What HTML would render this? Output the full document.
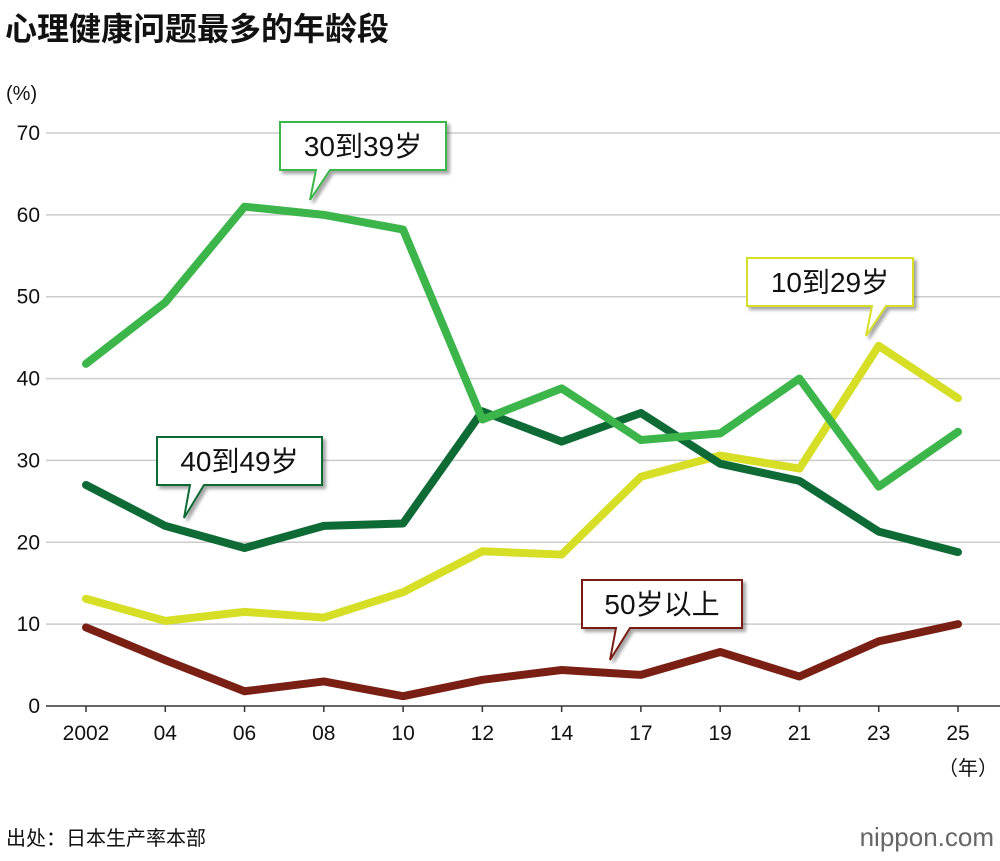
<!DOCTYPE html>
<html><head><meta charset="utf-8"><style>
body{margin:0;background:#fff;font-family:"Liberation Sans","Noto Sans CJK SC",sans-serif;}
svg text{font-family:"Liberation Sans","Noto Sans CJK SC",sans-serif;}
</style></head><body>
<svg id="c" width="1000" height="856" xmlns="http://www.w3.org/2000/svg">
<defs><filter id="sh" x="-10%" y="-10%" width="130%" height="140%"><feDropShadow dx="3" dy="3" stdDeviation="1.5" flood-color="#000" flood-opacity="0.35"/></filter></defs>
<text x="5" y="40" font-size="32" font-weight="bold" fill="#111">心理健康问题最多的年龄段</text>
<text x="6" y="100" font-size="20" fill="#111">(%)</text>
<g id="grid"></g><g id="series"></g><g id="labels"></g>
<text x="968" y="775" font-size="20" fill="#111" text-anchor="middle">（年）</text>
<text x="6" y="845" font-size="20" fill="#111">出处：日本生产率本部</text>
<text x="994" y="846" font-size="26" fill="#666" text-anchor="end">nippon.com</text>
</svg>
<script>
const categories=["2002","04","06","08","10","12","14","17","19","21","23","25"];
const yTicks=[0,10,20,30,40,50,60,70];
const s30=[41.8,49.3,61,60,58.2,35,38.8,32.5,33.3,40,26.8,33.5];
const s40=[27,22,19.3,22,22.3,36,32.3,35.8,29.6,27.5,21.3,18.8];
const s10=[13.1,10.4,11.5,10.8,13.9,18.9,18.5,28,30.6,29,44,37.6];
const s50=[9.6,5.6,1.8,3,1.2,3.2,4.4,3.8,6.6,3.6,7.9,10];
const NS="http://www.w3.org/2000/svg";
const x=i=>86+i*(958-86)/(categories.length-1);
const y=v=>706-v*(706-133)/70;
function mk(t,a,p){const e=document.createElementNS(NS,t);for(const k in a)e.setAttribute(k,a[k]);p.appendChild(e);return e;}
const g=document.getElementById('grid');
yTicks.forEach(v=>{
 const l=mk('line',{x1:46,x2:1000,y1:y(v),y2:y(v),stroke:v===0?'#333':'#ccc','stroke-width':1.5},g);
 
 
 const t=mk('text',{x:40,y:y(v)+7,'font-size':21,'text-anchor':'end',fill:'#111'},g);t.textContent=v;
 
 
});
categories.forEach((c,i)=>{
 const l=mk('line',{x1:x(i),x2:x(i),y1:706,y2:712,stroke:'#333','stroke-width':1.5},g);
 
 
 const t=mk('text',{x:x(i),y:740,'font-size':21,'text-anchor':'middle',fill:'#111'},g);t.textContent=c;
 
 
});
const sg=document.getElementById('series');
[[s50,'#7a1f14','line-50-plus'],[s10,'#d6df26','line-10-29'],[s40,'#0f6b35','line-40-49'],[s30,'#3cb64a','line-30-39']].forEach(([d,col,n])=>{
 const p=mk('polyline',{points:d.map((v,i)=>x(i)+','+y(v)).join(' '),fill:'none',stroke:col,'stroke-width':8,'stroke-linejoin':'round','stroke-linecap':'round'},sg);
 
 
});
const lg=document.getElementById('labels');
function callout(x0,y0,w,h,px,py,col,txt,n){
 const path=`M${x0},${y0} h${w} v${h} H${px+20} L${px},${py} L${px+6},${y0+h} H${x0} Z`;
 const p=mk('path',{d:path,fill:'#fff',stroke:col,'stroke-width':2,filter:'url(#sh)'},lg);
 
 
 const t=mk('text',{x:x0+w/2,y:y0+h/2+10,'font-size':28,'text-anchor':'middle',fill:'#111'},lg);t.textContent=txt;
 
 
}
callout(280,122,166,48,310,200,'#3cb64a','30到39岁','label-30-39');
callout(747,258,166,48,866,336,'#d6df26','10到29岁','label-10-29');
callout(157,437,165,48,184,518,'#0f6b35','40到49岁','label-40-49');
callout(582,580,160,48,610,660,'#7a1f14','50岁以上','label-50-plus');
</script>
</body></html>
